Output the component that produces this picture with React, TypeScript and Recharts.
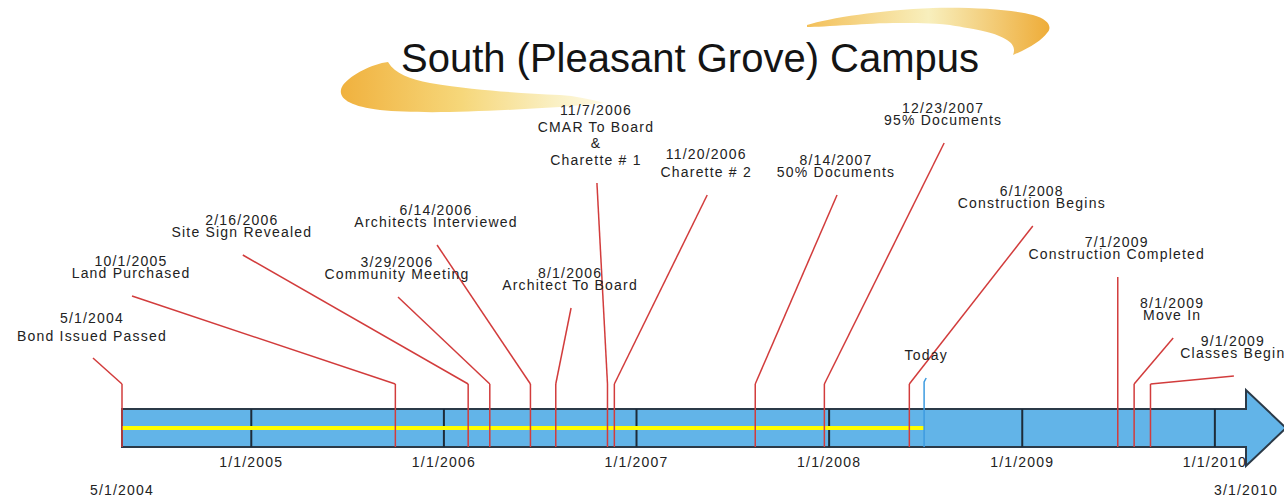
import React from 'react';
import {
  ComposedChart,
  XAxis,
  YAxis,
  Line,
  ReferenceArea,
  ReferenceLine,
  ReferenceDot,
  Customized,
} from 'recharts';

// ---------------- data ----------------
const START = '5/1/2004';
const END = '3/1/2010';
const TODAY = '6/29/2008';
const TITLE = 'South (Pleasant Grove) Campus';

const yearTicks = ['1/1/2005', '1/1/2006', '1/1/2007', '1/1/2008', '1/1/2009', '1/1/2010'];

const milestoneDates = [
  '5/1/2004', '10/1/2005', '2/16/2006', '3/29/2006', '6/14/2006', '8/1/2006', '11/7/2006',
  '11/20/2006', '8/14/2007', '12/23/2007', '6/1/2008', '7/1/2009', '8/1/2009', '9/1/2009',
];
const milestoneTitles = [
  ['Bond Issued Passed'],
  ['Land Purchased'],
  ['Site Sign Revealed'],
  ['Community Meeting'],
  ['Architects Interviewed'],
  ['Architect To Board'],
  ['CMAR To Board', '&', 'Charette # 1'],
  ['Charette # 2'],
  ['50% Documents'],
  ['95% Documents'],
  ['Construction Begins'],
  ['Construction Completed'],
  ['Move In'],
  ['Classes Begin'],
];
// where each callout's leader ends (date on the time axis, height above the bar bottom)
const calloutDates = [
  '3/7/2004', '5/20/2004', '12/16/2004', '10/6/2005', '12/19/2005', '8/30/2006', '10/18/2006',
  '5/15/2007', '1/16/2008', '8/6/2008', '1/21/2009', '7/1/2009', '10/14/2009', '2/6/2010',
];
const calloutHeights = [89, 151, 192, 150, 202, 139, 264, 252, 252, 304, 221, 170, 109, 71];

// ---------------- layout / style ----------------
const W = 1284;
const H = 496;
const FONT = '"Liberation Sans", Arial, Helvetica, sans-serif';
const BAR_TOP = 38;
const BAR_MID = 19;
const ELBOW = 63;
const Y_MAX = 447;
const lineGaps = [18, 11.5, 11.5, 11.5, 12, 11.5, 16.5, 18, 11.5, 12, 12, 11.5, 11.5, 11.5];
const RED = '#d23c3c';
const BLUE_LINE = '#3d9be0';

const BASE = Date.UTC(2004, 4, 1);
const toDay = (s: string) => {
  const [m, d, y] = s.split('/').map(Number);
  return Math.round((Date.UTC(y, m - 1, d) - BASE) / 86400000);
};
const fmtDay = (n: number) => {
  const dt = new Date(BASE + n * 86400000);
  return `${dt.getUTCMonth() + 1}/${dt.getUTCDate()}/${dt.getUTCFullYear()}`;
};

const startDay = toDay(START);
const endDay = toDay(END);
const todayDay = toDay(TODAY);

const progress = [
  { day: startDay, v: BAR_MID },
  { day: todayDay, v: BAR_MID },
];
const todayMarker = [
  { day: todayDay, v: 0 },
  { day: todayDay, v: 65 },
  { day: todayDay + 4, v: 69 },
];

const textProps = {
  fontFamily: FONT,
  fontSize: 14,
  letterSpacing: 1.2,
  fill: '#222',
  textAnchor: 'middle' as const,
};

const YearTick = (props: any) => {
  const { x, y, payload } = props;
  return (
    <text x={x} y={y} dy={12} {...textProps}>
      {fmtDay(payload.value)}
    </text>
  );
};
const EndTick = (props: any) => {
  const { x, y, payload } = props;
  return (
    <text x={x} y={y} dy={9.5} {...textProps}>
      {fmtDay(payload.value)}
    </text>
  );
};

const BarArrow = (props: any) => {
  const { x, y, width, height } = props;
  const head = 38;
  const len = 40;
  const r = x + width;
  const mid = y + height / 2;
  const d = `M${x},${y} L${r},${y} L${r},${mid - head} L${r + len},${mid} L${r},${mid + head} L${r},${y + height} L${x},${y + height} Z`;
  return <path d={d} fill="#62b4e8" stroke="#2b3a48" strokeWidth={2} strokeLinejoin="miter" />;
};

const makeCallout = (lines: string[], gap: number, bottomOffset: number) => (props: any) => {
  const { cx, cy } = props;
  const n = lines.length;
  return (
    <g>
      {lines.map((t, i) => (
        <text
          key={i}
          x={cx - 1}
          y={cy - bottomOffset - (n - 1 - i) * gap}
          dominantBaseline="central"
          {...textProps}
        >
          {t}
        </text>
      ))}
    </g>
  );
};

const Decor = () => (
  <g>
    <defs>
      <linearGradient id="swL" x1="340" y1="0" x2="610" y2="0" gradientUnits="userSpaceOnUse">
        <stop offset="0" stopColor="#f0b13e" />
        <stop offset="0.45" stopColor="#f6d77a" />
        <stop offset="0.8" stopColor="#faf0c4" />
        <stop offset="1" stopColor="#fffbe8" />
      </linearGradient>
      <linearGradient id="swR" x1="805" y1="0" x2="1052" y2="0" gradientUnits="userSpaceOnUse">
        <stop offset="0" stopColor="#f3bf58" />
        <stop offset="0.5" stopColor="#f8efbd" />
        <stop offset="1" stopColor="#eeab36" />
      </linearGradient>
    </defs>
    <path
      d="M388,62 C372,64 352,74 343,85 C336,96 345,106 380,110 C420,114 480,112 560,107 L605,103 C590,99 575,96 560,95 C520,93 480,91 430,83 C410,79 395,74 388,62 Z"
      fill="url(#swL)"
    />
    <path
      d="M807,25 C830,18 880,10 933,8 C975,7 1015,10 1033,15 C1048,19 1053,27 1047,33 C1042,40 1030,48 1013,55 C1016,48 1012,43 1007,40 C1000,36 995,34 987,32 C970,28 955,26 950,25 C930,23 915,23 900,23 C880,23 865,24 850,25 C830,26 815,27 807,27 Z"
      fill="url(#swR)"
    />
    <text x={690} y={72} textAnchor="middle" fontFamily={FONT} fontSize={40} fill="#141414">
      {TITLE}
    </text>
  </g>
);

export default function App() {
  return (
    <div style={{ position: 'absolute', left: 0, top: 0, width: W, height: H, background: '#fff' }}>
      <ComposedChart
        width={W}
        height={H}
        data={progress}
        margin={{ top: 0, right: 38, bottom: 0, left: 122 }}
      >
        <Customized component={Decor} />
        <XAxis
          dataKey="day"
          type="number"
          domain={[startDay, endDay]}
          ticks={yearTicks.map(toDay)}
          interval={0}
          axisLine={false}
          tickLine={false}
          height={30}
          tick={<YearTick />}
        />
        <XAxis
          xAxisId="ends"
          dataKey="day"
          type="number"
          domain={[startDay, endDay]}
          ticks={[startDay, endDay]}
          interval={0}
          axisLine={false}
          tickLine={false}
          height={19}
          tick={<EndTick />}
        />
        <YAxis type="number" domain={[0, Y_MAX]} hide />

        <ReferenceArea
          x1={startDay}
          x2={endDay}
          y1={0}
          y2={BAR_TOP}
          ifOverflow="visible"
          shape={<BarArrow />}
        />
        {yearTicks.map((t) => (
          <ReferenceLine
            key={t}
            segment={[
              { x: toDay(t), y: 0 },
              { x: toDay(t), y: BAR_TOP },
            ]}
            stroke="#1d2b38"
            strokeWidth={2}
            ifOverflow="visible"
          />
        ))}

        <Line
          data={progress}
          dataKey="v"
          stroke="#ffff00"
          strokeWidth={4}
          dot={false}
          isAnimationActive={false}
        />
        <Line
          data={todayMarker}
          dataKey="v"
          stroke={BLUE_LINE}
          strokeWidth={1.5}
          dot={false}
          isAnimationActive={false}
        />

        {milestoneDates.map((d, i) => (
          <ReferenceLine
            key={`v${i}`}
            segment={[
              { x: toDay(d), y: 0 },
              { x: toDay(d), y: ELBOW },
            ]}
            stroke={RED}
            strokeWidth={1.5}
            ifOverflow="visible"
          />
        ))}
        {milestoneDates.map((d, i) => (
          <ReferenceLine
            key={`d${i}`}
            segment={[
              { x: toDay(d), y: ELBOW },
              { x: toDay(calloutDates[i]), y: calloutHeights[i] },
            ]}
            stroke={RED}
            strokeWidth={1.5}
            ifOverflow="visible"
          />
        ))}
        {milestoneDates.map((d, i) => (
          <ReferenceDot
            key={`l${i}`}
            x={toDay(calloutDates[i])}
            y={calloutHeights[i]}
            r={0}
            ifOverflow="visible"
            shape={makeCallout([d, ...milestoneTitles[i]], lineGaps[i], i === 0 ? 22 : 23.5)}
          />
        ))}
        <ReferenceDot
          x={todayDay + 6}
          y={69}
          r={0}
          ifOverflow="visible"
          shape={makeCallout(['Today'], 12, 23)}
        />
      </ComposedChart>
    </div>
  );
}
